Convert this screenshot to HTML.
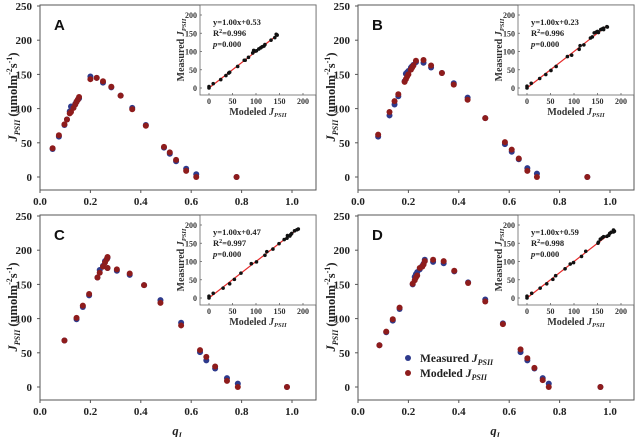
<!DOCTYPE html>
<html><head><meta charset="utf-8">
<style>
body{margin:0;background:#fff;}
svg{display:block;font-family:"Liberation Serif",serif;}
</style></head>
<body>
<svg id="fig" width="638" height="437" viewBox="0 0 638 437" xmlns="http://www.w3.org/2000/svg"></svg>
<script>
const xTicks=["0.0","0.2","0.4","0.6","0.8","1.0"];
const yTicks=[0,50,100,150,200,250];
const insetTicks=[0,50,100,150,200];
// Panel A
const qA=[0.05,0.075,0.097,0.107,0.118,0.123,0.133,0.14,0.145,0.15,0.155,0.2,0.225,0.25,0.283,0.32,0.366,0.42,0.492,0.515,0.54,0.58,0.62,0.78];
const measA=[41,59,76,84,96,103,102,107,110,113,115,147,145,138,131,119,101,76,43,34,23,12,4,0];
const modA=[42,61,77,84,93,95,101,106,110,113,117,143,145,140,132,119,99,75,44,36,25,9,0,0];
// Panel B
const qB=[0.08,0.125,0.145,0.16,0.185,0.19,0.195,0.2,0.21,0.215,0.22,0.23,0.26,0.29,0.333,0.38,0.435,0.505,0.583,0.61,0.638,0.672,0.71,0.91];
const measB=[59,90,106,118,140,151,153,155,160,162,164,168,167,160,152,137,116,86,48,37,26,13,5,0];
const modB=[62,95,111,121,139,143,147,150,157,160,163,170,171,163,152,135,113,86,51,40,27,9,0,0];
// Panel C
const qC=[0.097,0.145,0.17,0.195,0.228,0.237,0.25,0.258,0.265,0.268,0.268,0.305,0.356,0.413,0.478,0.56,0.635,0.66,0.695,0.742,0.785,0.98];
const measC=[68,99,117,134,160,171,177,184,187,189,174,170,164,149,127,94,51,39,27,13,5,0];
const modC=[68,101,119,136,160,167,176,182,187,190,174,172,166,149,123,90,54,44,30,9,0,0];
// Panel D
const qD=[0.085,0.112,0.138,0.165,0.217,0.225,0.23,0.235,0.245,0.255,0.26,0.265,0.298,0.34,0.382,0.437,0.505,0.575,0.645,0.672,0.7,0.733,0.757,0.962];
const measD=[61,80,97,114,150,161,165,168,172,177,180,186,183,181,169,153,128,93,51,39,27,13,5,0];
const modD=[61,81,99,116,151,156,160,163,174,176,179,184,186,184,170,152,125,92,55,42,28,10,0,0];
const fits=["y=1.00x+0.53","y=1.00x+0.23","y=1.00x+0.47","y=1.00x+0.59"];
const r2s=["0.996","0.996","0.997","0.998"];

const NS="http://www.w3.org/2000/svg";
const svg=document.getElementById('fig');
function mk(tag,attrs,parent,text){const e=document.createElementNS(NS,tag);for(const k in attrs)e.setAttribute(k,attrs[k]);if(text!==undefined)e.textContent=text;(parent||svg).appendChild(e);return e;}
const BLUE="#2e3a8c",RED="#8e1c1c";

function panel(ox,oy,letter,q,meas,mod,fit,r2,showX,legend){
  const g=mk('g',{});
  
  
  const L=ox+40,R=ox+316,T=oy+5,B=oy+190;
  const X=v=>L+252*v, Y=v=>oy+177-0.684*v;
  const box=mk('rect',{x:L,y:T,width:R-L,height:B-T,fill:'#fff',stroke:'#555','stroke-width':1},g);
  
  xTicks.forEach((t,i)=>{const x=X(i*0.2);mk('line',{x1:x,x2:x,y1:B,y2:B+3,stroke:'#555'},g);
    const tx=mk('text',{x:x,y:B+15,'text-anchor':'middle','font-size':11,'font-weight':'bold',fill:'#222'},g,t);
    });
  yTicks.forEach(t=>{const y=Y(t);mk('line',{x1:L-3,x2:L,y1:y,y2:y,stroke:'#555'},g);
    const tx=mk('text',{x:L-8,y:y+4,'text-anchor':'end','font-size':11,'font-weight':'bold',fill:'#222'},g,t);
    });
  const yt=mk('text',{transform:`translate(${ox+17},${oy+97}) rotate(-90)`,'text-anchor':'middle','font-size':12.5,'font-weight':'bold',fill:'#222'},g);
  
  yt.innerHTML='<tspan font-style="italic">J</tspan><tspan font-style="italic" font-size="8" dy="3">PSII</tspan><tspan dy="-3"> (umolm</tspan><tspan font-size="8" dy="-5">-2</tspan><tspan dy="5">s</tspan><tspan font-size="8" dy="-5">-1</tspan><tspan dy="5">)</tspan>';
  if(showX){const xt=mk('text',{x:ox+177,y:oy+225,'text-anchor':'middle','font-size':12.5,'font-weight':'bold','font-style':'italic',fill:'#222'},g);
    
    xt.innerHTML='q<tspan font-size="8" dy="3">I</tspan>';}
  const lt=mk('text',{x:L+14,y:T+25,'font-family':'Liberation Sans, sans-serif','font-size':15,'font-weight':'bold',fill:'#111'},g,letter);
  
  q.forEach((v,i)=>{const c=mk('circle',{cx:X(v),cy:Y(meas[i]),r:3,fill:BLUE},g);
    });
  q.forEach((v,i)=>{const c=mk('circle',{cx:X(v),cy:Y(mod[i]),r:3,fill:RED},g);
    });
  // inset
  const ig=mk('g',{},g);
  const IL=ox+200,IR=ox+316,IT=oy+5,IB=oy+95;
  const IX=v=>ox+209+0.47*v, IY=v=>oy+88-0.365*v;
  mk('rect',{x:IL,y:IT,width:IR-IL,height:IB-IT,fill:'#fff',stroke:'#666','stroke-width':0.8},ig);
  insetTicks.forEach(t=>{
    mk('line',{x1:IX(t),x2:IX(t),y1:IB,y2:IB-2,stroke:'#666','stroke-width':0.8},ig);
    const a=mk('text',{x:IX(t),y:IB+9,'text-anchor':'middle','font-size':8,'font-weight':'bold',fill:'#333'},ig,t);
    
    mk('line',{x1:IL,x2:IL+2,y1:IY(t),y2:IY(t),stroke:'#666','stroke-width':0.8},ig);
    const b=mk('text',{x:IL-3,y:IY(t)+3,'text-anchor':'end','font-size':8,'font-weight':'bold',fill:'#333'},ig,t);
    });
  const ixt=mk('text',{x:ox+258,y:oy+115,'text-anchor':'middle','font-size':10,'font-weight':'bold',fill:'#333'},ig);
  
  ixt.innerHTML='Modeled <tspan font-style="italic">J</tspan><tspan font-style="italic" font-size="6.5" dy="2">PSII</tspan>';
  const iyt=mk('text',{transform:`translate(${ox+184},${oy+50}) rotate(-90)`,'text-anchor':'middle','font-size':10,'font-weight':'bold',fill:'#333'},ig);
  
  iyt.innerHTML='Measured <tspan font-style="italic">J</tspan><tspan font-style="italic" font-size="6.5" dy="2">PSII</tspan>';
  const mx=Math.max(...mod,...meas);
  const fl=mk('line',{x1:IX(0),y1:IY(0),x2:IX(mx),y2:IY(mx),stroke:'#e52a2a','stroke-width':1.2},ig);
  
  mod.forEach((v,i)=>{const c=mk('circle',{cx:IX(v),cy:IY(meas[i]),r:1.8,fill:'#111'},ig);
    });
  const st=mk('text',{x:ox+213,y:oy+25,'font-size':8.5,'font-weight':'bold',fill:'#222'},ig);
  
  st.innerHTML=`<tspan x="${ox+213}">${fit}</tspan><tspan x="${ox+213}" dy="11">R<tspan font-size="6" dy="-3">2</tspan><tspan dy="3">=${r2}</tspan></tspan><tspan x="${ox+213}" dy="11"><tspan font-style="italic">p</tspan>=0.000</tspan>`;
  if(legend){
    const lg=mk('g',{},g);
    [[BLUE,'Measured ',358],[RED,'Modeled ',373]].forEach(([c,t,yy])=>{
      const e=mk('g',{},lg);
      mk('circle',{cx:ox+90,cy:yy,r:3,fill:c},e);
      const tt=mk('text',{x:ox+102,y:yy+4,'font-size':11.5,'font-weight':'bold',fill:'#222'},e);
      tt.innerHTML=t+'<tspan font-style="italic">J</tspan><tspan font-style="italic" font-size="8" dy="3">PSII</tspan>';});
  }
}
panel(0,0,'A',qA,measA,modA,fits[0],r2s[0],false,false);
panel(318,0,'B',qB,measB,modB,fits[1],r2s[1],false,false);
panel(0,210,'C',qC,measC,modC,fits[2],r2s[2],true,false);
panel(318,210,'D',qD,measD,modD,fits[3],r2s[3],true,true);
</script>
</body></html>
